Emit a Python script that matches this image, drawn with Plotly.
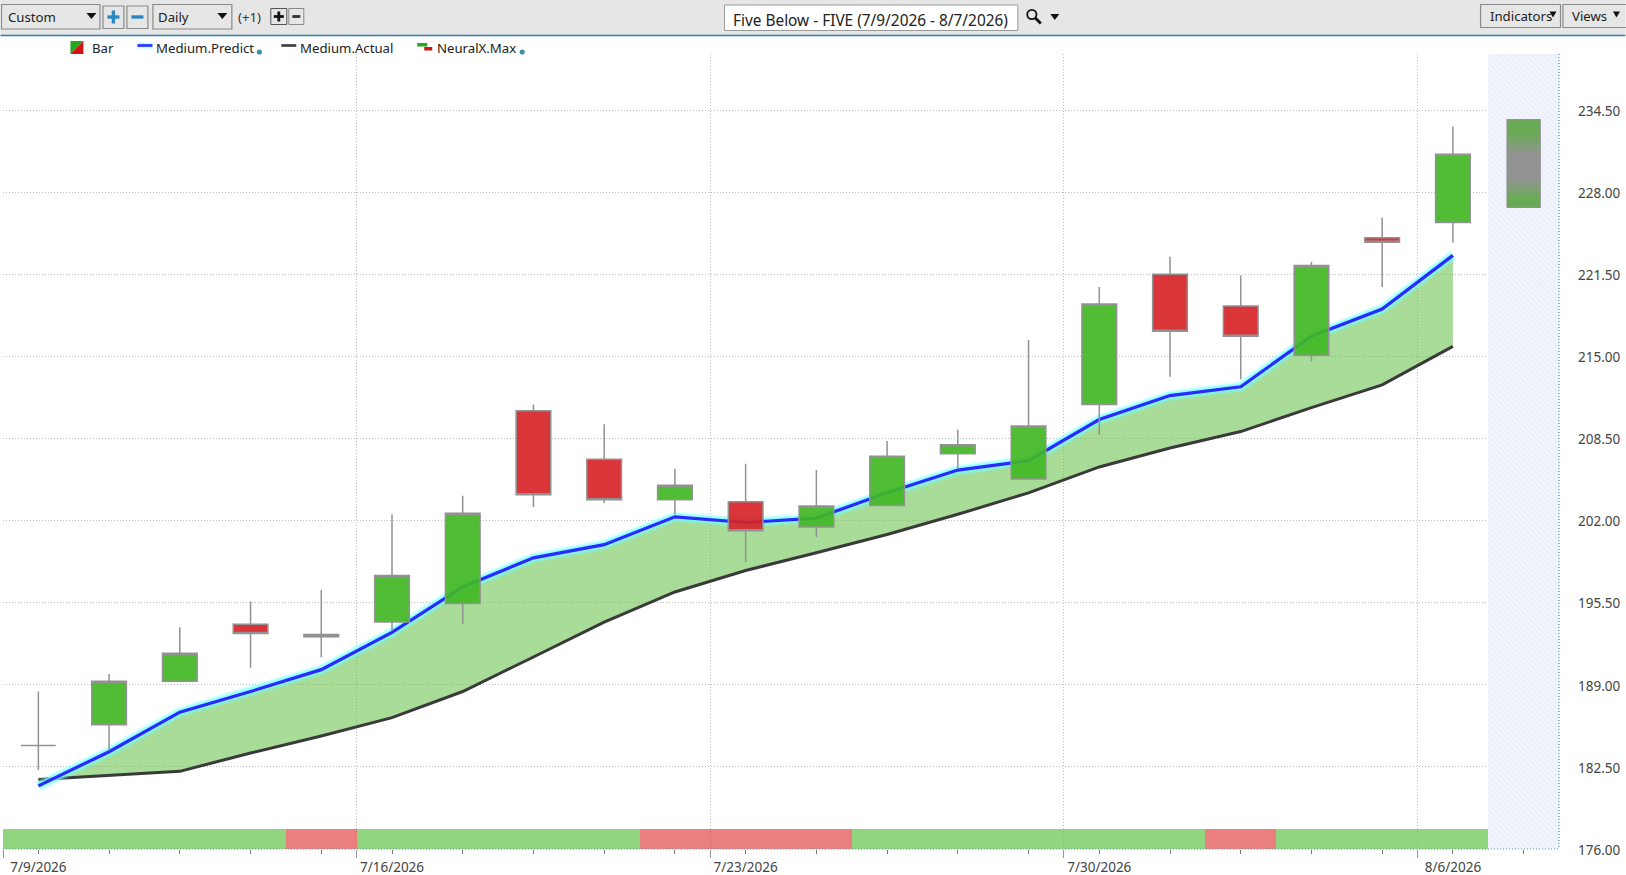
import plotly.graph_objects as go

# ---------- data ----------
dates = ["7/9/2026", "7/10/2026", "7/13/2026", "7/14/2026", "7/15/2026", "7/16/2026", "7/17/2026",
         "7/20/2026", "7/21/2026", "7/22/2026", "7/23/2026", "7/24/2026", "7/27/2026", "7/28/2026",
         "7/29/2026", "7/30/2026", "7/31/2026", "8/3/2026", "8/4/2026", "8/5/2026", "8/6/2026", "8/7/2026"]
labelled_dates = ["7/9/2026", "7/16/2026", "7/23/2026", "7/30/2026", "8/6/2026"]
opens = [184.2, 185.84, 189.29, 193.8, 192.8, 193.97, 195.44, 210.7, 206.85, 203.65, 203.5,
         201.5, 203.2, 207.3, 205.3, 211.2, 221.5, 219.0, 215.1, 224.4, 225.6]
highs = [188.47, 189.86, 193.55, 195.6, 196.5, 202.5, 203.97, 211.2, 209.63, 206.1, 206.5,
         206.0, 208.3, 209.2, 216.3, 220.5, 222.9, 221.4, 222.5, 226.0, 233.2]
lows = [182.23, 183.79, 189.29, 190.36, 191.18, 193.3, 193.8, 203.07, 203.4, 202.5, 198.7,
        200.7, 203.2, 206.1, 205.3, 208.8, 213.4, 213.2, 214.6, 220.5, 224.0]
closes = [184.2, 189.29, 191.5, 193.06, 192.98, 197.66, 202.58, 204.05, 203.65, 204.8, 201.2,
          203.15, 207.1, 208.0, 209.5, 219.15, 217.0, 216.6, 222.2, 224.05, 231.0]
forecast_high = 233.75
forecast_low = 226.8
predict = [181.0, 183.7, 186.83, 188.47, 190.2, 193.15, 196.75, 199.05, 200.1, 202.3, 201.85,
           202.2, 204.2, 206.0, 206.75, 210.0, 211.9, 212.6, 216.6, 218.75, 223.0]
actual = [181.5, 181.8, 182.15, 183.6, 184.95, 186.4, 188.47, 191.2, 193.97, 196.35, 198.05,
          199.45, 200.9, 202.5, 204.2, 206.25, 207.75, 209.05, 210.95, 212.75, 215.8]
signal = ["up", "up", "up", "up", "down", "up", "up", "up", "up", "down", "down", "down",
          "up", "up", "up", "up", "up", "down", "up", "up", "up"]
y_ticks = [176, 182.5, 189, 195.5, 202, 208.5, 215, 221.5, 228, 234.5]

# ---------- geometry / style ----------
W, H = 1626, 875
L, R, T, B = 2.5, 1559.5, 54, 849
Y_TOP = 176 + (B - T) / 12.63
FONT = "Noto Sans"
DOT = "1px,2px"
positions = list(range(len(dates)))
bar_positions = positions[:len(opens)]
boundaries = [-0.5, 4.5, 9.5, 14.5, 19.5]
tick_text = [d if d in labelled_dates else "" for d in dates]
SIG_COL = {"up": "rgba(98,196,72,0.7)", "down": "rgba(222,64,64,0.67)"}


def X(p):
    return (p - L) / (R - L)


def Y(p):
    return 1 - (p - T) / (B - T)


shapes, notes = [], []


def rect(x0, y0, x1, y1, fill=None, line=None, lw=1):
    shapes.append(dict(type="rect", xref="paper", yref="paper", x0=X(x0), x1=X(x1), y0=Y(y0), y1=Y(y1),
                       fillcolor=fill or "rgba(0,0,0,0)", line=dict(color=line or "rgba(0,0,0,0)", width=lw if line else 0),
                       layer="above"))


def seg(x0, y0, x1, y1, col, lw=1, dash="solid"):
    shapes.append(dict(type="line", xref="paper", yref="paper", x0=X(x0), x1=X(x1), y0=Y(y0), y1=Y(y1),
                       line=dict(color=col, width=lw, dash=dash), layer="above"))


def poly(pts, fill):
    d = "M " + " L ".join(f"{X(a):.6f} {Y(b):.6f}" for a, b in pts) + " Z"
    shapes.append(dict(type="path", xref="paper", yref="paper", path=d, fillcolor=fill,
                       line=dict(width=0), layer="above"))


def dot(cx, cy, r, fill=None, line=None, lw=1):
    shapes.append(dict(type="circle", xref="paper", yref="paper", x0=X(cx - r), x1=X(cx + r), y0=Y(cy - r), y1=Y(cy + r),
                       fillcolor=fill or "rgba(0,0,0,0)", line=dict(color=line or "rgba(0,0,0,0)", width=lw if line else 0),
                       layer="above"))


def text(x, y, s, size=13.2, col="#222222", anchor="left"):
    notes.append(dict(xref="paper", yref="paper", x=X(x), y=Y(y), text=s, showarrow=False, xanchor=anchor,
                      yanchor="middle", font=dict(family=FONT, size=size, color=col), borderpad=0, borderwidth=0))


def arrow(cx, cy, w=5):
    poly([(cx - w, cy - 3), (cx + w, cy - 3), (cx, cy + 3)], "#111111")


# toolbar
rect(0, 0, W, 35.5, fill="#E6E6E6")
seg(0, 35.5, W, 35.5, "#2F7FB5", 1.3)
BORDER = "#8A8A8A"
rect(1, 4.5, 99.5, 29, line=BORDER, lw=1.2)
text(8, 17, "Custom")
arrow(91, 16)
rect(102.5, 6, 123.5, 28.5, line=BORDER, lw=1.2)
seg(107, 17, 119, 17, "#2E86C1", 3.4)
seg(113, 10.5, 113, 23.5, "#2E86C1", 3.4)
rect(126.5, 6, 147.5, 28.5, line=BORDER, lw=1.2)
seg(131, 17, 143, 17, "#2E86C1", 3.4)
rect(152.5, 4.5, 231.5, 29, line=BORDER, lw=1.2)
text(158, 17, "Daily")
arrow(222, 16)
text(238, 17, "(+1)", col="#333333")
rect(270.5, 8.5, 286.5, 24.5, line="#555555", lw=1)
seg(273.5, 16.5, 283.5, 16.5, "#111111", 2.8)
seg(278.5, 11.5, 278.5, 21.5, "#111111", 2.8)
rect(288.5, 8.5, 303.5, 24.5, line=BORDER, lw=1)
seg(292, 16.5, 300, 16.5, "#333333", 2.8)
rect(724.5, 5, 1018, 30.5, fill="#FFFFFF", line="#9A9A9A", lw=1)
text(871, 20, "Five Below - FIVE (7/9/2026 - 8/7/2026)", size=15.4, anchor="center")
dot(1032, 14.5, 4.6, line="#111111", lw=1.8)
seg(1035.5, 18, 1041, 23.5, "#111111", 2.8)
arrow(1055, 17, 4.5)
rect(1481, 4.5, 1561, 27.5, line=BORDER, lw=1.2)
text(1490, 16, "Indicators")
arrow(1553.5, 14.5, 3.5)
rect(1563.5, 4.5, 1640, 27.5, line=BORDER, lw=1.2)
text(1573, 16, "Views")
arrow(1617, 14.5, 3.5)

# legend
poly([(70, 41), (83, 41), (70, 54)], "#22A81E")
poly([(83, 41), (83, 54), (70, 54)], "#D01414")
text(92, 48, "Bar")
for wid, col in [(8, "rgba(120,255,255,0.25)"), (5, "rgba(120,255,255,0.45)")]:
    seg(137, 45.5, 152, 45.5, col, wid)
seg(137, 45.5, 152, 45.5, "#2A2AFF", 2.6)
text(156, 48, "Medium.Predict")
dot(259, 52, 2.6, fill="#3C8DAE")
seg(281, 45.5, 296, 45.5, "#3A3A3A", 2.6)
text(300, 48, "Medium.Actual")
rect(417, 43, 427, 46.5, fill="#22A81E")
rect(424, 47, 432, 50.5, fill="#D01414")
text(437, 48, "NeuralX.Max")
dot(522, 52, 2.6, fill="#3C8DAE")

# plot frame (dotted)
seg(R, T, R, B, "#3A8CC8", 1.2, DOT)
seg(L, B, R, B, "#4FA0B8", 1.2, DOT)

fig = go.Figure()
# forecast hatch column
fig.add_trace(go.Bar(x=[positions[-1]], y=[Y_TOP - 176], base=176, width=1, hoverinfo="skip", showlegend=False,
                     marker=dict(color="#EEF2FA", line=dict(width=0),
                                 pattern=dict(shape="\\", size=4, solidity=0.35, fgcolor="#DDE5F3", bgcolor="#F2F5FB"))))
# bottom signal strip
fig.add_trace(go.Bar(x=bar_positions, y=[1.62] * len(signal), base=176, width=1, showlegend=False, hoverinfo="skip",
                     marker=dict(color=[SIG_COL[s] for s in signal], line=dict(width=0))))
# fill between lines
fig.add_trace(go.Scatter(x=bar_positions, y=actual, mode="lines", line=dict(width=0), showlegend=False, hoverinfo="skip"))
fig.add_trace(go.Scatter(x=bar_positions, y=predict, mode="lines", line=dict(width=0), fill="tonexty",
                         fillcolor="rgba(81,185,49,0.5)", showlegend=False, hoverinfo="skip"))
# lines
fig.add_trace(go.Scatter(x=bar_positions, y=actual, mode="lines", name="Medium.Actual", showlegend=False,
                         line=dict(color="#3A3A3A", width=3)))
for wid, col in [(12, "rgba(120,255,255,0.16)"), (9, "rgba(120,255,255,0.35)"), (6.5, "rgba(120,255,255,0.6)")]:
    fig.add_trace(go.Scatter(x=bar_positions, y=predict, mode="lines", line=dict(color=col, width=wid),
                             showlegend=False, hoverinfo="skip"))
fig.add_trace(go.Scatter(x=bar_positions, y=predict, mode="lines", name="Medium.Predict", showlegend=False,
                         line=dict(color="#2A2AFF", width=3.2)))
# candles on overlay
fig.add_trace(go.Candlestick(x=bar_positions, open=opens, high=highs, low=lows, close=closes, xaxis="x2", yaxis="y2",
                             name="Bar", showlegend=False, whiskerwidth=0,
                             increasing=dict(fillcolor="rgba(65,183,36,0.92)", line=dict(color="#929292", width=1.5)),
                             decreasing=dict(fillcolor="rgba(215,36,40,0.92)", line=dict(color="#929292", width=1.5))))
half = 0.235
fc = positions[-1]
fig.add_trace(go.Scatter(x=[fc - half, fc + half, fc + half, fc - half, fc - half],
                         y=[forecast_low, forecast_low, forecast_high, forecast_high, forecast_low],
                         xaxis="x2", yaxis="y2", mode="lines", fill="toself", showlegend=False, hoverinfo="skip",
                         line=dict(color="#929292", width=1.2),
                         fillgradient=dict(type="vertical",
                                           colorscale=[[0, "#69AB55"], [0.1, "#69AB55"], [0.33, "#939393"], [0.6, "#939393"],
                                                       [0.85, "#69AB55"], [1, "#69AB55"]])))

fig.update_layout(
    width=W, height=H, margin=dict(l=L, r=W - R, t=T, b=H - B, pad=0), autosize=False,
    paper_bgcolor="#FFFFFF", plot_bgcolor="#FFFFFF", showlegend=False, barmode="overlay", bargap=0,
    font=dict(family=FONT, size=13, color="#444444"),
    shapes=shapes, annotations=notes,
    xaxis=dict(type="linear", automargin=False, range=[-0.5, 21.5], tickmode="array", tickvals=positions, ticktext=tick_text,
               ticks="outside", ticklen=4, tickwidth=1, tickcolor="#777777", showgrid=False, zeroline=False, showline=False,
               ticklabelstandoff=2, tickangle=0, tickfont=dict(size=13.5, color="#444444"),
               minor=dict(tickmode="array", tickvals=boundaries, ticks="outside", ticklen=8, tickwidth=1, tickcolor="#999999",
                          showgrid=True, gridcolor="#BDBDBD", griddash=DOT, gridwidth=1),
               rangeslider=dict(visible=False)),
    yaxis=dict(side="right", automargin=False, range=[176, Y_TOP], tickmode="array", tickvals=y_ticks,
               ticktext=[f"{v:.2f}" for v in y_ticks], ticks="", showgrid=True, gridcolor="#BDBDBD", griddash=DOT,
               gridwidth=1, zeroline=False, showline=False, ticklabelstandoff=18, ticklabelshift=1,
               tickfont=dict(size=13.5, color="#444444")),
    xaxis2=dict(overlaying="x", matches="x", visible=False, rangeslider=dict(visible=False)),
    yaxis2=dict(overlaying="y", matches="y", visible=False, side="right"),
)
fig.write_html("out.html", config=dict(displayModeBar=False), post_script="document.body.style.margin='0';document.body.style.overflow='hidden';")
